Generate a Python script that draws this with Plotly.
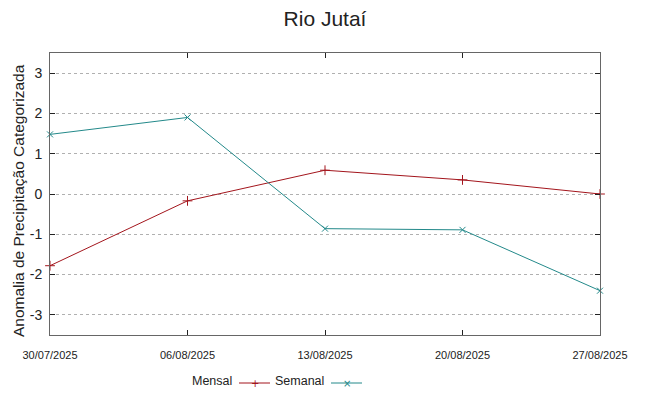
import plotly.graph_objects as go

dates = ["2025-07-30", "2025-08-06", "2025-08-13", "2025-08-20", "2025-08-27"]
tick_labels = ["30/07/2025", "06/08/2025", "13/08/2025", "20/08/2025", "27/08/2025"]
mensal = [-1.78, -0.17, 0.59, 0.35, 0.0]
semanal = [1.48, 1.90, -0.86, -0.89, -2.40]
y_ticks = [-3, -2, -1, 0, 1, 2, 3]
y_tick_labels = ["-3", "-2", "-1", "0", "1", "2", "3"]

c_mensal = "#a3151c"
c_semanal = "#23898a"

# page has an 8px body margin; compensate so the plot lands where the reference has it
OFF = 8
W, H = 649 - OFF, 396 - OFF
PL, PR, PT, PB = 50, 600, 53, 335  # plot box in page pixels


def px(xp):
    return (xp - PL) / (PR - PL)


def py(yp):
    return (PB - yp) / (PB - PT)


fig = go.Figure()
fig.add_trace(go.Scatter(x=dates, y=mensal, mode="lines+markers", name="Mensal",
                         line=dict(color=c_mensal, width=1),
                         marker=dict(symbol="cross-thin", size=7, line=dict(color=c_mensal, width=1)),
                         showlegend=False, cliponaxis=False))
fig.add_trace(go.Scatter(x=dates, y=semanal, mode="lines+markers", name="Semanal",
                         line=dict(color=c_semanal, width=1),
                         marker=dict(symbol="x-thin", size=6, line=dict(color=c_semanal, width=1)),
                         showlegend=False, cliponaxis=False))

axis_common = dict(showline=True, linecolor="#666666", linewidth=1, mirror="ticks",
                   ticks="inside", ticklen=5, tickcolor="#222222", zeroline=False,
                   automargin=False)

fig.update_xaxes(type="date", range=[dates[0], dates[-1]], tickvals=dates, ticktext=tick_labels,
                 showgrid=False, ticklabelstandoff=10,
                 tickfont=dict(family="Liberation Sans Narrow, Arial Narrow, Liberation Sans", size=11,
                               color="#222222"),
                 **axis_common)
fig.update_yaxes(range=[-3.5, 3.5], tickvals=y_ticks, ticktext=y_tick_labels,
                 showgrid=True, gridcolor="#b0b0b0", griddash="dot", gridwidth=1,
                 ticklabelstandoff=4,
                 tickfont=dict(family="Liberation Sans", size=14, color="#222222"),
                 **axis_common)

# y axis title as an annotation to place it like the reference
fig.add_annotation(xref="paper", yref="paper", xanchor="center", yanchor="middle",
                   x=px(18), y=py(201), text="Anomalia de Precipitação Categorizada",
                   textangle=-90, showarrow=False,
                   font=dict(family="Liberation Sans", size=15.5, color="#222222"))

# custom legend (gnuplot-style: text then sample)
legend_font = dict(family="Liberation Sans Narrow, Arial Narrow, Liberation Sans", size=12.5,
                   color="#222222")
ly = 381
fig.add_annotation(xref="paper", yref="paper", xanchor="right", yanchor="middle",
                   x=px(234), y=py(ly), text="Mensal", showarrow=False, font=legend_font)
fig.add_annotation(xref="paper", yref="paper", xanchor="right", yanchor="middle",
                   x=px(326), y=py(ly), text="Semanal", showarrow=False, font=legend_font)
for x0, x1, col, sym in [(239, 270, c_mensal, "+"), (331, 362, c_semanal, "×")]:
    fig.add_shape(type="line", xref="paper", yref="paper",
                  x0=px(x0), x1=px(x1), y0=py(383), y1=py(383),
                  line=dict(color=col, width=1))
    fig.add_annotation(xref="paper", yref="paper", xanchor="center", yanchor="middle",
                       x=px((x0 + x1) / 2), y=py(383), text=sym, showarrow=False,
                       font=dict(family="DejaVu Sans", size=10, color=col))

fig.update_layout(
    width=W, height=H,
    margin=dict(l=PL - OFF, r=W - (PR - OFF), t=PT - OFF, b=H - (PB - OFF), pad=0),
    paper_bgcolor="white", plot_bgcolor="white",
    title=dict(text="Rio Jutaí", x=(325 - OFF) / W, xanchor="center", y=1 - (19 - OFF) / H,
               yanchor="middle", xref="container",
               font=dict(family="Liberation Sans", size=21, color="#222222")),
)

fig.write_html("out.html")
